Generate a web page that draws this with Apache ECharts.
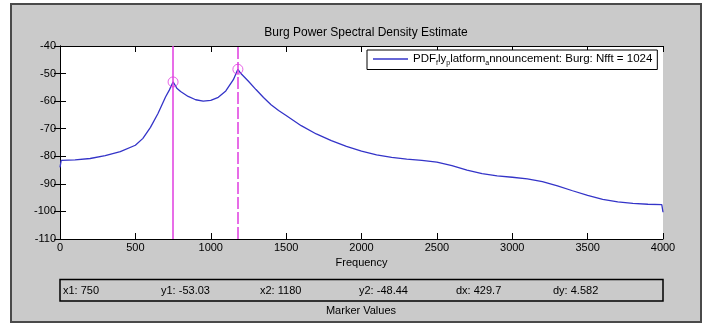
<!DOCTYPE html>
<html><head><meta charset="utf-8">
<script src="https://cdn.jsdelivr.net/npm/echarts@6/dist/echarts.min.js"></script>
<style>html,body{margin:0;padding:0;background:#fff}#c{width:707px;height:324px}</style>
</head><body><div id="c"></div>
<script>
const freqs = [0, 8, 100, 200, 300, 400, 500, 550, 600, 650, 700, 725, 750, 775, 800, 850, 900, 950, 1000, 1050, 1100, 1150, 1180, 1200, 1250, 1300, 1350, 1400, 1450, 1500, 1600, 1700, 1800, 1900, 2000, 2100, 2200, 2300, 2400, 2500, 2600, 2700, 2800, 2900, 3000, 3100, 3200, 3300, 3400, 3500, 3600, 3700, 3800, 3900, 3992, 4000];
const psd = [-84.0, -81.5, -81.3, -80.8, -79.8, -78.3, -76.0, -73.5, -69.5, -64.5, -58.5, -56.0, -53.03, -55.3, -56.5, -58.3, -59.5, -60.0, -59.7, -58.6, -56.3, -52.2, -48.44, -50.0, -52.8, -55.8, -58.7, -61.3, -63.4, -65.2, -68.9, -71.9, -74.3, -76.4, -78.1, -79.5, -80.4, -81.0, -81.5, -82.1, -83.4, -85.0, -86.3, -87.1, -87.6, -88.2, -89.2, -90.7, -92.5, -94.2, -95.6, -96.5, -97.1, -97.4, -97.5, -100.3];
const markerX = [750, 1180];
const markerY = [-53.03, -48.44];
const readouts = ['x1: 750', 'y1: -53.03', 'x2: 1180', 'y2: -48.44', 'dx: 429.7', 'dy: 4.582'];
const titleText = 'Burg Power Spectral Density Estimate';
const seriesName = 'PDF_fly_platform_announcement: Burg: Nfft = 1024';
const legendRich = '{n|PDF}{s|f}{n|ly}{s|p}{n|latform}{s|a}{n|nnouncement: Burg: Nfft = 1024}';

const FONT = '"Liberation Sans", Arial, sans-serif';
const MAG = '#e03ce0';
const BLUE = '#3434c8';

const chart = echarts.init(document.getElementById('c'), null, {renderer: 'canvas'});
const readoutX = [63, 161, 260, 359, 456, 553];

const graphics = [
  {type: 'rect', z: -100, shape: {x: 11, y: 4, width: 690, height: 318}, style: {fill: '#cacaca', stroke: '#4a4a4a', lineWidth: 2}, silent: true},
  {type: 'rect', z: 10, shape: {x: 60, y: 279.5, width: 603, height: 21.5}, style: {fill: 'none', stroke: '#000', lineWidth: 1.5}, silent: true},
  {type: 'text', z: 10, style: {text: 'Marker Values', x: 361, y: 311, align: 'center', verticalAlign: 'middle', font: '11px ' + FONT, fill: '#000'}}
];
readouts.forEach((t, i) => {
  graphics.push({type: 'text', z: 10, style: {text: t, x: readoutX[i], y: 290.5, align: 'left', verticalAlign: 'middle', font: '11px ' + FONT, fill: '#000'}});
});

const axisCommon = {
  type: 'value', min: 0, max: 4000, interval: 500,
  axisLine: {show: true, lineStyle: {color: '#000', width: 1}},
  axisTick: {show: true, inside: true, length: 6, lineStyle: {color: '#000'}},
  splitLine: {show: false}
};
const yCommon = {
  type: 'value', min: -110, max: -40, interval: 10,
  axisLine: {show: true, lineStyle: {color: '#000', width: 1}},
  axisTick: {show: true, inside: true, length: 6, lineStyle: {color: '#000'}},
  splitLine: {show: false}
};

chart.setOption({
  animation: false,
  backgroundColor: '#fff',
  title: {text: titleText, left: 361, top: 22, textAlign: 'center',
    textStyle: {fontSize: 12, fontWeight: 'normal', color: '#000', fontFamily: FONT}},
  graphic: graphics,
  grid: {left: 60, top: 46, right: 44, bottom: 85, show: true, backgroundColor: '#fff', borderWidth: 0},
  legend: {
    show: true, left: 367, top: 50, orient: 'vertical',
    backgroundColor: '#fff', borderColor: '#000', borderWidth: 1, borderRadius: 0,
    padding: [3, 5, 3, 6], itemWidth: 35, itemHeight: 1.4, itemGap: 0,
    icon: 'rect',
    data: [seriesName],
    formatter: () => legendRich,
    textStyle: {fontSize: 11.5, color: '#000', fontFamily: FONT,
      rich: {n: {fontSize: 11.5, color: '#000', fontFamily: FONT}, s: {fontSize: 7, color: '#000', fontFamily: FONT, padding: [8, 0, 0, 0]}}}
  },
  xAxis: [
    Object.assign({}, axisCommon, {position: 'bottom', name: 'Frequency', nameLocation: 'middle', nameGap: 18,
      nameTextStyle: {fontSize: 11, color: '#000', fontFamily: FONT},
      axisLabel: {show: true, color: '#000', fontSize: 11, fontFamily: FONT, margin: 3, formatter: v => String(v)}}),
    Object.assign({}, axisCommon, {position: 'top', axisLabel: {show: false}})
  ],
  yAxis: [
    Object.assign({}, yCommon, {position: 'left', axisLabel: {show: true, color: '#000', fontSize: 11, fontFamily: FONT, margin: 4, formatter: v => String(v)}}),
    Object.assign({}, yCommon, {position: 'right', axisLabel: {show: false}})
  ],
  series: [
    {
      name: seriesName, type: 'line', xAxisIndex: 0, yAxisIndex: 0,
      data: freqs.map((f, i) => [f, psd[i]]),
      symbol: 'none', showSymbol: false, smooth: false,
      lineStyle: {color: BLUE, width: 1.3}, itemStyle: {color: BLUE},
      markLine: {
        silent: true, symbol: ['none', 'none'], label: {show: false},
        data: [
          {xAxis: markerX[0], lineStyle: {color: MAG, width: 1.5, type: 'solid'}},
          {xAxis: markerX[1], lineStyle: {color: MAG, width: 1.5, type: [12, 3]}}
        ]
      }
    },
    {
      name: 'markers', type: 'scatter', xAxisIndex: 0, yAxisIndex: 0,
      data: markerX.map((x, i) => [x, markerY[i]]),
      symbol: 'circle', symbolSize: 10, z: 5,
      itemStyle: {color: 'rgba(0,0,0,0)', borderColor: MAG, borderWidth: 1}
    }
  ]
});
</script>
</body></html>
